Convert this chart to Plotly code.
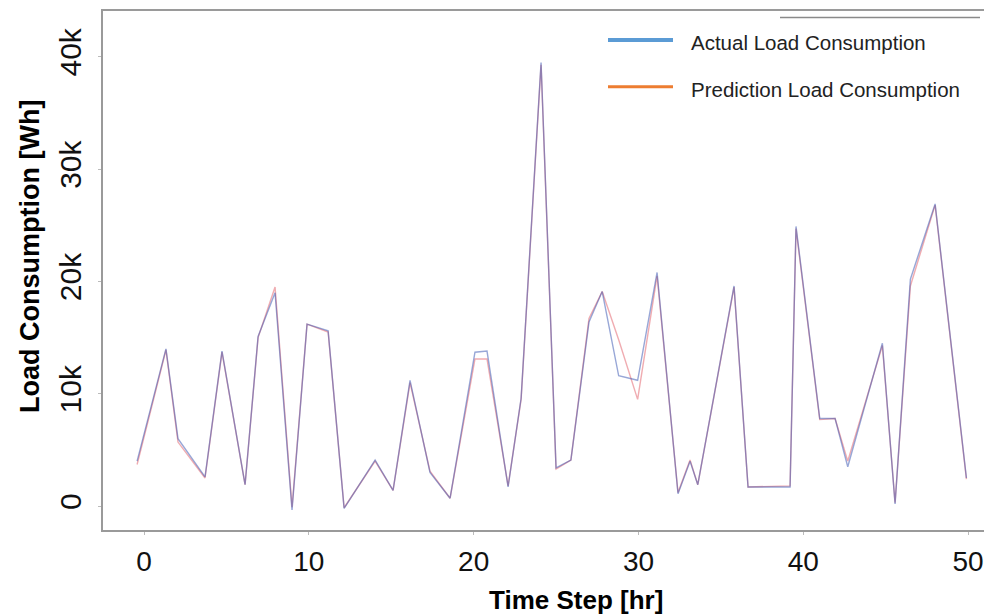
import plotly.graph_objects as go

# ---- data ----
time_step = [-0.42, 1.33, 2.06, 3.70, 4.73, 6.13, 6.92, 7.95, 8.98, 9.89,
             11.17, 12.14, 14.02, 15.11, 16.14, 17.35, 18.57, 20.08, 20.81, 22.09,
             22.88, 24.09, 25.00, 25.90, 27.00, 27.80, 28.80, 29.95, 31.13, 32.40,
             33.13, 33.60, 35.80, 36.65, 39.20, 39.56, 41.00, 41.93, 42.70, 44.80,
             45.57, 46.50, 48.00, 49.90]
actual_load = [4000, 14000, 6000, 2600, 13800, 1900, 15100, 19000, -350, 16200,
               15600, -200, 4100, 1400, 11200, 3000, 700, 13700, 13800, 1700,
               9600, 39500, 3400, 4100, 16400, 19100, 11600, 11200, 20800, 1100,
               4000, 1900, 19600, 1700, 1700, 24900, 7800, 7800, 3500, 14500,
               200, 20200, 26900, 2500]
predicted_load = [3700, 13900, 5700, 2500, 13700, 1900, 15000, 19500, -100, 16200,
                  15500, -150, 4000, 1400, 11000, 3100, 700, 13100, 13100, 1800,
                  9500, 39300, 3300, 4100, 16700, 19100, 14800, 9500, 20500, 1200,
                  4100, 1900, 19500, 1700, 1800, 24700, 7700, 7800, 4000, 14300,
                  300, 19600, 26800, 2400]
y_tick_values = [0, 10000, 20000, 30000, 40000]
y_tick_labels = ["0", "10k", "20k", "30k", "40k"]
x_tick_values = [0, 10, 20, 30, 40, 50]
series_names = ["Actual Load Consumption", "Prediction Load Consumption"]

fig = go.Figure()
fig.add_trace(go.Scatter(x=time_step, y=predicted_load, mode="lines",
                         name=series_names[1], showlegend=False,
                         line=dict(color="rgba(225,90,100,0.5)", width=1.4)))
fig.add_trace(go.Scatter(x=time_step, y=actual_load, mode="lines",
                         name=series_names[0], showlegend=False,
                         line=dict(color="rgba(50,80,175,0.5)", width=1.4)))

# page offset of the plotly div (browser body margin)
OFF = 8
# plot-area pixel geometry in page coordinates
L, R, T, B = 103, 989, 9, 530
W, H = 992 - OFF, 614 - OFF
pw, ph = R - L, B - T

def px(x):
    return (x - L) / pw

def py(y):
    return (B - y) / ph

# legend drawn as shapes + text
legend_items = [("#5b9bd5", 4, 38, 41), ("#ed7d31", 3, 85, 88)]
for (col, wid, ly, ty), name in zip(legend_items, series_names):
    fig.add_shape(type="line", xref="paper", yref="paper",
                  x0=px(608), x1=px(673), y0=py(ly), y1=py(ly),
                  line=dict(color=col, width=wid))
    fig.add_annotation(xref="paper", yref="paper", x=px(689), y=py(ty),
                       text=name, showarrow=False, xanchor="left", yanchor="middle",
                       font=dict(family="Liberation Sans, Arial", size=20.5, color="#222"))
fig.add_shape(type="line", xref="paper", yref="paper",
              x0=px(780), x1=px(980), y0=py(15.5), y1=py(15.5),
              line=dict(color="#8a8a8a", width=1.5))

# axis titles as annotations
fig.add_annotation(xref="paper", yref="paper", x=px(576), y=py(600),
                   text="<b>Time Step [hr]</b>", showarrow=False,
                   xanchor="center", yanchor="middle",
                   font=dict(family="Liberation Sans, Arial", size=26, color="#000"))
fig.add_annotation(xref="paper", yref="paper", x=px(30), y=py(256),
                   text="<b>Load Consumption [Wh]</b>", showarrow=False, textangle=-90,
                   xanchor="center", yanchor="middle",
                   font=dict(family="Liberation Sans, Arial", size=27, color="#000"))

fig.update_layout(
    width=W, height=H,
    margin=dict(l=L - OFF, r=992 - R, t=T - OFF, b=614 - B),
    paper_bgcolor="white", plot_bgcolor="white",
    showlegend=False,
    font=dict(family="Liberation Sans, Arial", color="#111"),
)
fig.update_xaxes(range=[-2.49, 51.27], tickvals=x_tick_values,
                 showgrid=False, zeroline=False,
                 showline=True, mirror=True, linecolor="#9a9a9a", linewidth=1.5,
                 ticks="outside", ticklen=3, tickcolor="#bbbbbb",
                 ticklabelstandoff=3,
                 tickfont=dict(family="Liberation Sans, Arial", size=28, color="#111"))
fig.update_yaxes(range=[-2130, 44080], tickvals=y_tick_values, ticktext=y_tick_labels,
                 tickangle=-90,
                 showgrid=False, zeroline=False,
                 showline=True, mirror=True, linecolor="#9a9a9a", linewidth=1.5,
                 ticks="outside", ticklen=3, tickcolor="#bbbbbb",
                 ticklabelstandoff=5,
                 tickfont=dict(family="Liberation Sans, Arial", size=30, color="#111"))

fig.write_html("out.html")
